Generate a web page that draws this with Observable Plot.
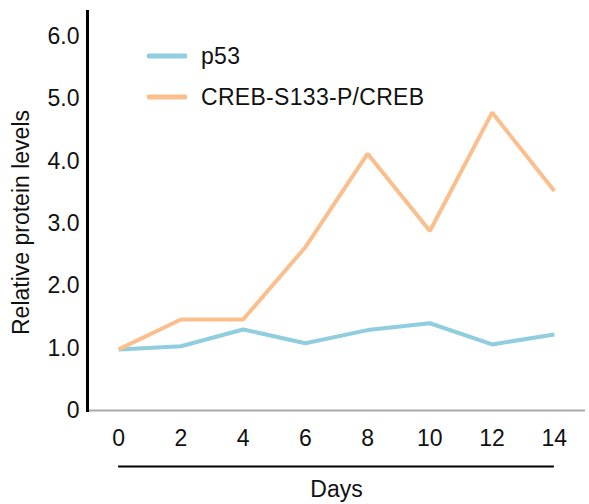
<!DOCTYPE html>
<html>
<head>
<meta charset="utf-8">
<script src="https://cdn.jsdelivr.net/npm/d3@7"></script>
<script src="https://cdn.jsdelivr.net/npm/@observablehq/plot@0.6"></script>
<style>
  html, body { margin: 0; padding: 0; background: #fff; }
  #wrap { position: relative; width: 589px; height: 504px; font-family: "Liberation Sans", Arial, sans-serif; }
  #legend { position: absolute; left: 147px; top: 43px; }
  .row { display: flex; align-items: center; height: 26px; margin-bottom: 15px; }
  .row span { font-size: 23px; color: #111; margin-left: 14px; letter-spacing: 0.3px; }
</style>
</head>
<body>
<div id="wrap"></div>
<script>
const days = [0, 2, 4, 6, 8, 10, 12, 14];
const seriesNames = ["p53", "CREB-S133-P/CREB"];
const p53 = [0.98, 1.03, 1.30, 1.08, 1.29, 1.40, 1.06, 1.22];
const creb = [0.98, 1.46, 1.46, 2.62, 4.12, 2.88, 4.78, 3.52];
const colors = ["#8fcddf", "#fbbf8e"];
const yTicks = [0, 1, 2, 3, 4, 5, 6];
const yTickLabels = ["0", "1.0", "2.0", "3.0", "4.0", "5.0", "6.0"];
const yLabel = "Relative protein levels";
const xLabel = "Days";

const xDomain = [-1, 15];
const yDomain = [0, 6.45];

const data = [];
days.forEach((d, i) => {
  data.push({day: d, value: p53[i], series: seriesNames[0]});
  data.push({day: d, value: creb[i], series: seriesNames[1]});
});

const font = "Liberation Sans, Arial, sans-serif";

const chart = Plot.plot({
  width: 589,
  height: 504,
  marginLeft: 87,
  marginRight: 4,
  marginTop: 8,
  marginBottom: 94,
  style: {fontFamily: font, fontSize: "23px", color: "#111", background: "white", overflow: "visible"},
  x: {domain: xDomain},
  y: {domain: yDomain},
  color: {domain: seriesNames, range: colors},
  marks: [
    Plot.axisX(days, {tickSize: 0, tickPadding: 19, label: null, fontSize: 23}),
    Plot.axisY(yTicks, {tickSize: 0, tickPadding: 8, label: null, fontSize: 23,
      tickFormat: (d) => yTickLabels[yTicks.indexOf(d)]}),
    Plot.ruleY([0], {stroke: "#aaaaaa", strokeWidth: 2}),
    Plot.ruleX([xDomain[0]], {stroke: "#000", strokeWidth: 3, y1: yDomain[0], y2: yDomain[1], dy: 2}),
    Plot.line(data, {x: "day", y: "value", z: "series", stroke: "series", strokeWidth: 4,
      strokeLinejoin: "miter", strokeLinecap: "butt"}),
    Plot.ruleY([-0.9], {x1: days[0], x2: days[days.length - 1], stroke: "#000", strokeWidth: 2, clip: false}),
    Plot.text([xLabel], {frameAnchor: "bottom", lineAnchor: "middle", dy: 79, fontSize: 23, fill: "#111"}),
    Plot.text([yLabel], {frameAnchor: "left", textAnchor: "middle", lineAnchor: "middle", rotate: -90, dx: -66, dy: 13, fontSize: 23, fill: "#111"})
  ]
});

const wrap = document.getElementById("wrap");
wrap.appendChild(chart);

const legend = document.createElement("div");
legend.id = "legend";
seriesNames.forEach((name, i) => {
  const row = document.createElement("div");
  row.className = "row";
  row.innerHTML = `<svg width="40" height="8"><line x1="2" y1="4" x2="38" y2="4" stroke="${colors[i]}" stroke-width="5" stroke-linecap="round"/></svg><span></span>`;
  row.querySelector("span").textContent = name;
  legend.appendChild(row);
});
wrap.appendChild(legend);
</script>
</body>
</html>
